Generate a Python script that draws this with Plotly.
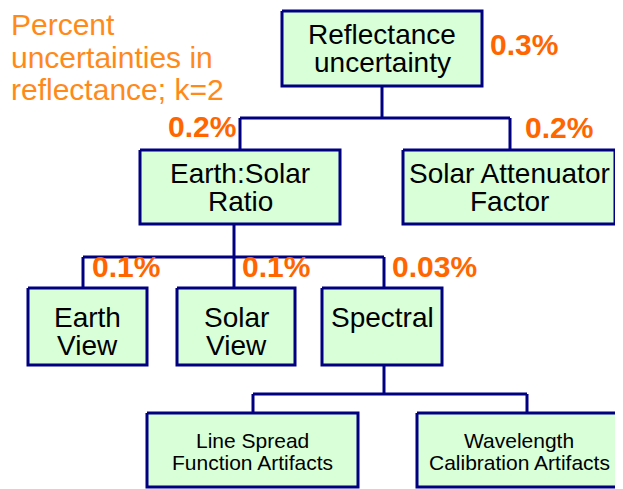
import plotly.graph_objects as go

# ---- data ----
node_lines = [
    ["Reflectance", "uncertainty"],
    ["Earth:Solar", "Ratio"],
    ["Solar Attenuator", "Factor"],
    ["Earth", "View"],
    ["Solar", "View"],
    ["Spectral"],
    ["Line Spread", "Function Artifacts"],
    ["Wavelength", "Calibration Artifacts"],
]
parents = [None, 0, 0, 1, 1, 1, 5, 5]
percents = ["0.3%", "0.2%", "0.2%", "0.1%", "0.1%", "0.03%", None, None]
title_lines = ["Percent", "uncertainties in", "reflectance; k=2"]

# ---- layout geometry (pixels of the page) ----
boxes = [  # x0, x1, y0, y1
    (282, 482, 11, 86),
    (140, 340, 150, 224),
    (403, 615, 150, 224),
    (28, 147, 288, 365),
    (177, 295, 288, 365),
    (322, 442, 288, 365),
    (147, 358, 413, 487),
    (417, 621, 413, 487),
]
attach_top = [None, 240, 510, 83, 234, 384, 253, 527]   # x where connector enters child
attach_bottom = [382, 234, None, None, None, 384, None, None]  # x where connector leaves parent
bus_y = {0: 118, 1: 257, 5: 394}
text_baselines = [
    [44, 72], [183, 211], [183, 211], [327, 355], [327, 355], [327], [448, 470], [448, 470]
]
text_sizes = [28, 28, 28, 28, 28, 28, 21, 21]
pct_pos = [(488, 55), (166, 137), (523, 138), (90, 277), (240, 277), (390, 277)]
pct_size = 30
title_x = 9
title_size = 30
title_baselines = [35, 68, 100]

NAVY = "#000080"
FILL = "#D8FFD8"
PCT = "#FF6600"
TITLE = "#FF8A1A"
FONT = "Liberation Sans, Arial, sans-serif"
BODY_MARGIN = 8  # page body margin offsets the figure

fig = go.Figure()

# connectors
for p in sorted(set(q for q in parents if q is not None)):
    kids = [i for i, q in enumerate(parents) if q == p]
    y_b = bus_y[p]
    px = attach_bottom[p]
    fig.add_trace(go.Scatter(x=[px, px], y=[boxes[p][3], y_b], mode="lines",
                             line=dict(color=NAVY, width=3), hoverinfo="skip", showlegend=False))
    xs = [attach_top[k] for k in kids] + [px]
    fig.add_trace(go.Scatter(x=[min(xs), max(xs)], y=[y_b, y_b], mode="lines",
                             line=dict(color=NAVY, width=3), hoverinfo="skip", showlegend=False))
    for k in kids:
        fig.add_trace(go.Scatter(x=[attach_top[k], attach_top[k]], y=[y_b, boxes[k][2]], mode="lines",
                                 line=dict(color=NAVY, width=3), hoverinfo="skip", showlegend=False))

# boxes
for i, (x0, x1, y0, y1) in enumerate(boxes):
    fig.add_trace(go.Scatter(x=[x0, x1, x1, x0, x0], y=[y0, y0, y1, y1, y0], mode="lines",
                             fill="toself", fillcolor=FILL, line=dict(color=NAVY, width=3),
                             hoverinfo="skip", showlegend=False))

annotations = []
for i, lines in enumerate(node_lines):
    cx = (boxes[i][0] + boxes[i][1]) / 2
    s = text_sizes[i]
    for ln, bl in zip(lines, text_baselines[i]):
        annotations.append(dict(x=cx, y=bl - 0.35 * s, xref="x", yref="y", text=ln,
                                showarrow=False, xanchor="center", yanchor="middle",
                                font=dict(family=FONT, size=s, color="#000000")))

for i, pct in enumerate(percents):
    if pct is None:
        continue
    x, bl = pct_pos[i]
    annotations.append(dict(x=x, y=bl - 0.35 * pct_size, xref="x", yref="y", text="<b>" + pct + "</b>",
                            showarrow=False, xanchor="left", yanchor="middle",
                            font=dict(family=FONT, size=pct_size, color=PCT)))

for ln, bl in zip(title_lines, title_baselines):
    annotations.append(dict(x=title_x, y=bl - 0.35 * title_size, xref="x", yref="y", text=ln,
                            showarrow=False, xanchor="left", yanchor="middle",
                            font=dict(family=FONT, size=title_size, color=TITLE)))

W, H = 623, 489
fig.update_layout(
    width=W - BODY_MARGIN, height=H - BODY_MARGIN,
    margin=dict(l=0, r=0, t=0, b=0),
    paper_bgcolor="white", plot_bgcolor="white",
    xaxis=dict(range=[BODY_MARGIN, W], visible=False, fixedrange=True),
    yaxis=dict(range=[H, BODY_MARGIN], visible=False, fixedrange=True),
    annotations=annotations,
    showlegend=False,
)
fig.write_html("out.html")
